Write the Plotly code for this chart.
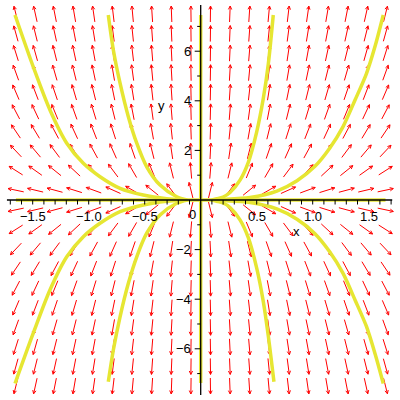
import math
import numpy as np
import plotly.graph_objects as go

# ---------------- data ----------------
# direction field of the system dx/dt = x, dy/dt = K*y on a 20x20 grid
FIELD_K = 4.0
GRID_X = np.linspace(-1.65, 1.65, 20)
GRID_Y = np.linspace(-7.5, 7.5, 20)

# solution curves
ur_steep_x = [0.10, 0.143, 0.20, 0.262, 0.351, 0.425, 0.50, 0.559, 0.604, 0.648]
ur_steep_y = [0.00, 0.05, 0.12, 0.30, 0.80, 1.52, 2.75, 4.10, 5.50, 7.46]
ur_flat_x = [0.10, 0.17, 0.44, 0.68, 0.86, 1.02, 1.15, 1.27, 1.38, 1.48, 1.56, 1.63]
ur_flat_y = [0.00, 0.02, 0.10, 0.36, 0.78, 1.36, 2.08, 2.95, 4.05, 5.10, 6.25, 7.46]
ul_steep_x = [-0.825, -0.78, -0.72, -0.646, -0.571, -0.482, -0.363, -0.214, -0.12]
ul_steep_y = [7.46, 6.05, 4.71, 3.36, 2.29, 1.34, 0.60, 0.13, 0.00]
ul_flat_x = [-1.658, -1.495, -1.346, -1.196, -1.048, -0.899, -0.72, -0.5125, -0.304, -0.15]
ul_flat_y = [7.46, 5.37, 3.63, 2.29, 1.48, 0.94, 0.47, 0.20, 0.05, 0.00]
lr_steep_x = [0.10, 0.143, 0.20, 0.262, 0.351, 0.425, 0.50, 0.559, 0.604, 0.654]
lr_steep_y = [0.00, -0.05, -0.12, -0.30, -0.80, -1.52, -2.75, -4.10, -5.50, -7.33]
lr_flat_x = [0.10, 0.17, 0.44, 0.68, 0.86, 1.02, 1.15, 1.27, 1.38, 1.48, 1.56, 1.63]
lr_flat_y = [0.00, -0.02, -0.10, -0.36, -0.78, -1.36, -2.08, -2.95, -4.05, -5.10, -6.25, -7.40]
ll_steep_x = [-0.825, -0.78, -0.72, -0.646, -0.571, -0.482, -0.363, -0.214, -0.12]
ll_steep_y = [-7.33, -6.05, -4.71, -3.36, -2.29, -1.34, -0.60, -0.13, 0.00]
ll_flat_x = [-1.658, -1.495, -1.346, -1.196, -1.048, -0.899, -0.72, -0.5125, -0.304, -0.15]
ll_flat_y = [-7.40, -5.37, -3.63, -2.29, -1.48, -0.94, -0.47, -0.20, -0.05, 0.00]
hline_x = [-1.65, 1.65]
hline_y = [0.0, 0.0]
vline_x = [0.0, 0.0]
vline_y = [-7.38, 7.46]

x_tick_vals = [round(-1.7 + 0.1 * i, 1) for i in range(35)]
x_label_vals = [-1.5, -1.0, -0.5, 0.5, 1.0, 1.5]
x_label_text = ["\u22121.5", "\u22121.0", "\u22120.5", "0.5", "1.0", "1.5"]
y_tick_vals = [-7, -6, -5, -4, -3, -2, -1, 1, 2, 3, 4, 5, 6, 7]
y_label_vals = [-6, -4, -2, 2, 4, 6]
y_label_text = ["\u22126", "\u22124", "\u22122", "2", "4", "6"]

# ---------------- layout geometry ----------------
W = H = 400
X_RANGE = [-1.792, 1.7795]
Y_RANGE = [-8.065, 8.065]
PX_X = W / (X_RANGE[1] - X_RANGE[0])
PX_Y = H / (Y_RANGE[1] - Y_RANGE[0])
ARROW_LEN = 16.0
HEAD_LEN = 3.8
HEAD_ANG = math.radians(26)

RED = "#ff0000"
YEL = "rgb(230,230,50)"
FONT = "Liberation Sans"

# ---------------- arrows ----------------
ax_, ay_ = [], []
for gx in GRID_X:
    for gy in GRID_Y:
        su, sv = gx * PX_X, FIELD_K * gy * PX_Y
        n = math.hypot(su, sv)
        if n == 0:
            continue
        dx, dy = su / n, sv / n
        h = ARROW_LEN / 2
        sx, sy = gx - dx * h / PX_X, gy - dy * h / PX_Y
        ex, ey = gx + dx * h / PX_X, gy + dy * h / PX_Y
        ax_ += [sx, ex, None]
        ay_ += [sy, ey, None]
        barbs = []
        for a in (HEAD_ANG, -HEAD_ANG):
            c, s = math.cos(a), math.sin(a)
            bx = -(dx * c - dy * s) * HEAD_LEN
            by = -(dx * s + dy * c) * HEAD_LEN
            barbs.append((ex + bx / PX_X, ey + by / PX_Y))
        ax_ += [barbs[0][0], ex, barbs[1][0], None]
        ay_ += [barbs[0][1], ey, barbs[1][1], None]

fig = go.Figure()
fig.add_trace(go.Scatter(x=ax_, y=ay_, mode="lines",
                         line=dict(color=RED, width=1), hoverinfo="skip"))

curves = [(ur_steep_x, ur_steep_y), (ur_flat_x, ur_flat_y),
          (ul_steep_x, ul_steep_y), (ul_flat_x, ul_flat_y),
          (lr_steep_x, lr_steep_y), (lr_flat_x, lr_flat_y),
          (ll_steep_x, ll_steep_y), (ll_flat_x, ll_flat_y),
          (hline_x, hline_y), (vline_x, vline_y)]
for cx, cy in curves:
    fig.add_trace(go.Scatter(x=cx, y=cy, mode="lines",
                             line=dict(color=YEL, width=3.5, shape="spline", smoothing=0.8),
                             hoverinfo="skip"))

# ---------------- axes ----------------
fig.add_trace(go.Scatter(x=[-1.73, 1.71], y=[0, 0], mode="lines",
                         line=dict(color="black", width=1.3), hoverinfo="skip"))
fig.add_trace(go.Scatter(x=[0, 0], y=[-7.86, 7.86], mode="lines",
                         line=dict(color="black", width=1.3), hoverinfo="skip"))
tx, ty = [], []
for v in x_tick_vals:
    if abs(v) < 1e-9:
        continue
    tx += [v, v, None]
    ty += [0, -4.5 / PX_Y, None]
for v in y_tick_vals:
    ln = 6.0 if v in y_label_vals else 3.5
    tx += [0, -ln / PX_X, None]
    ty += [v, v, None]
fig.add_trace(go.Scatter(x=tx, y=ty, mode="lines",
                         line=dict(color="black", width=1), hoverinfo="skip"))

ann = []
for v, t in zip(x_label_vals, x_label_text):
    ann.append(dict(x=v, y=0, text=t, showarrow=False, xanchor="center",
                    yanchor="top", yshift=-7, font=dict(family=FONT, size=13, color="black")))
for v, t in zip(y_label_vals, y_label_text):
    ann.append(dict(x=0, y=v, text=t, showarrow=False, xanchor="right",
                    yanchor="middle", xshift=-8, font=dict(family=FONT, size=13, color="black")))
ann.append(dict(x=0, y=0, text="0", showarrow=False, xanchor="right", yanchor="top",
                xshift=-3, yshift=-5, font=dict(family=FONT, size=13, color="black")))
ann.append(dict(x=0.857, y=-1.28, text="x", showarrow=False, xanchor="center",
                yanchor="middle", font=dict(family=FONT, size=13, color="black")))
ann.append(dict(x=-0.348, y=3.83, text="y", showarrow=False, xanchor="center",
                yanchor="middle", font=dict(family=FONT, size=13, color="black")))

fig.update_layout(
    width=W, height=H, margin=dict(l=0, r=0, t=0, b=0),
    paper_bgcolor="white", plot_bgcolor="white", showlegend=False,
    xaxis=dict(range=X_RANGE, visible=False, fixedrange=True),
    yaxis=dict(range=Y_RANGE, visible=False, fixedrange=True),
    annotations=ann,
)
fig.write_html("out.html", config={"displayModeBar": False},
               post_script="document.body.style.margin='0px';")
